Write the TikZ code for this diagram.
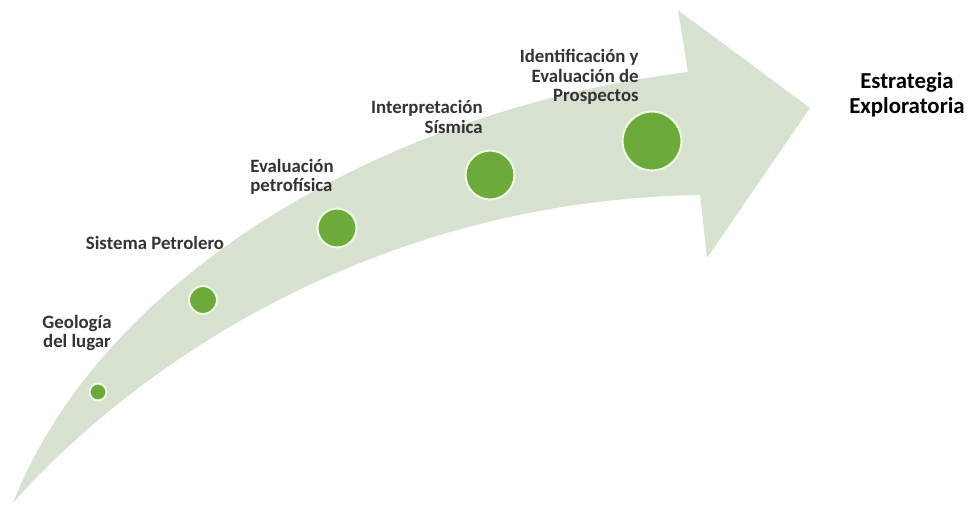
\documentclass[tikz,border=0pt]{standalone}
\usepackage{fontspec}
\setmainfont{Carlito}
\definecolor{bandgreen}{RGB}{214,226,207}
\definecolor{dotgreen}{RGB}{108,170,60}
\definecolor{dotring}{RGB}{236,248,224}

\begin{document}
\begin{tikzpicture}[x=0.02cm,y=-0.02cm,
  dot/.style={circle,fill=dotgreen,draw=dotring,line width=1.2pt,inner sep=0pt},
  lbl/.style={font=\bfseries\fontsize{10.7}{10.9}\selectfont,text=black!80,inner sep=0pt},
  goal/.style={font=\bfseries\fontsize{13}{14.5}\selectfont,align=center,inner sep=0pt}]
\useasboundingbox (0,0) rectangle (971,505);

\fill[bandgreen] (13,503) .. controls (100,280) and (380,110) .. (688,72) -- (678,10) -- (810,108) -- (707,258) -- (700,195) .. controls (380,200) and (140,360) .. (13,503) -- cycle;

\node[dot,minimum size=0.34cm] (geo) at (98,392) {};
\node[dot,minimum size=0.56cm] (sis) at (203,300) {};
\node[dot,minimum size=0.78cm] (pet) at (337,228) {};
\node[dot,minimum size=0.98cm] (sism) at (490,175) {};
\node[dot,minimum size=1.18cm] (pros) at (652,141) {};

\node[lbl,align=center,font=\bfseries\fontsize{10.7}{8.8}\selectfont] (geotxt) at (77,333) {Geología\\del lugar};
\node[lbl] (sistxt) at (155,243) {Sistema Petrolero};
\node[lbl,align=left] (pettxt) at (292,177) {Evaluación\\petrofísica};
\node[lbl,align=right,anchor=east] (sismtxt) at (483,117) {Interpretación\\Sísmica};
\node[lbl,align=right,anchor=east] (prostxt) at (639,77) {Identificación y\\Evaluación de\\Prospectos};

\node[goal] (meta) at (907,95) {Estrategia\\Exploratoria};
\end{tikzpicture}
\end{document}
